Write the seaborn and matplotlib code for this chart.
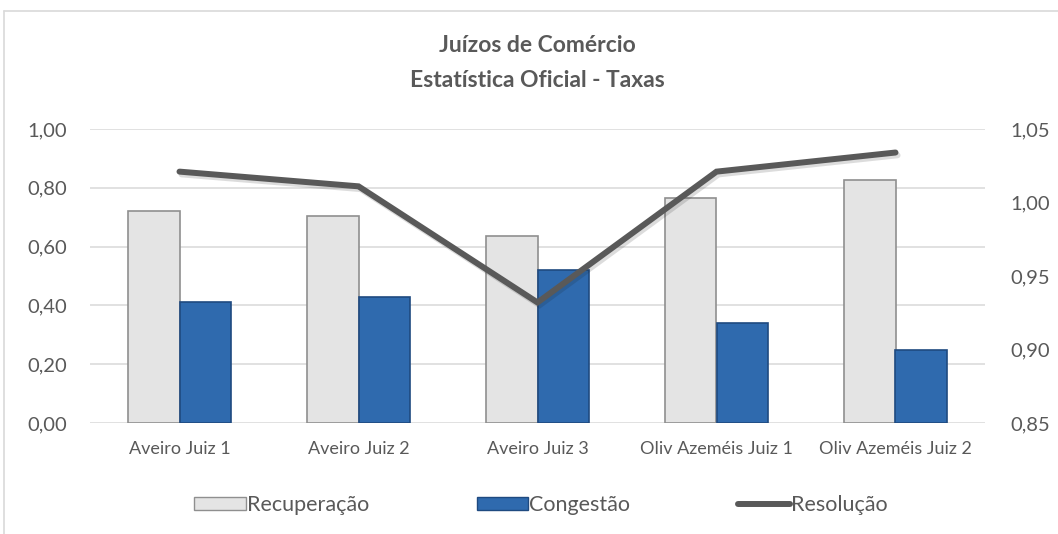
import pandas as pd
import matplotlib.pyplot as plt
import matplotlib.patheffects as pe
from matplotlib.lines import Line2D
from matplotlib.patches import Patch
from matplotlib.ticker import FuncFormatter, FixedLocator
import seaborn as sns

tribunais = ["Aveiro Juiz 1", "Aveiro Juiz 2", "Aveiro Juiz 3",
             "Oliv Azeméis Juiz 1", "Oliv Azeméis Juiz 2"]
recuperacao = [0.72, 0.705, 0.635, 0.765, 0.825]
congestao = [0.41, 0.43, 0.52, 0.34, 0.25]
resolucao = [1.021, 1.011, 0.932, 1.021, 1.034]

sns.set_theme(style="white")
plt.rcParams['font.family'] = ['Lato', 'DejaVu Sans']
txt = "#595959"

df = pd.DataFrame({
    "tribunal": tribunais * 2,
    "taxa": ["Recuperação"] * 5 + ["Congestão"] * 5,
    "valor": recuperacao + congestao,
})
cores = {"Recuperação": "#e4e4e4", "Congestão": "#2f6aae"}
bordas = {"Recuperação": "#8f8f8f", "Congestão": "#1f4a80"}

fig = plt.figure(figsize=(10.58, 5.34), dpi=100)
ax = fig.add_axes([90 / 1058, 111 / 534, 895 / 1058, 294 / 534])

sns.barplot(data=df, x="tribunal", y="valor", hue="taxa", palette=cores,
            width=0.58, saturation=1, ax=ax, legend=False, zorder=2)
for cont, nome in zip(ax.containers, ["Recuperação", "Congestão"]):
    for b in cont:
        b.set_edgecolor(bordas[nome])
        b.set_linewidth(1.2)

fmt = FuncFormatter(lambda v, p: f"{v:.2f}".replace(".", ","))
ax.set_ylim(0, 1.0)
ax.yaxis.set_major_locator(FixedLocator([0, 0.2, 0.4, 0.6, 0.8, 1.0]))
ax.yaxis.set_major_formatter(fmt)
ax.grid(axis="y", color="#d9d9d9", lw=1.1, zorder=0)
ax.grid(axis="x", visible=False)
ax.set_axisbelow(True)
ax.set_xlabel("")
ax.set_ylabel("")
ax.tick_params(axis="y", length=0, pad=16.5, labelsize=14.5, labelcolor=txt)
ax.tick_params(axis="x", length=0, pad=13, labelsize=13, labelcolor=txt)
for s in ax.spines.values():
    s.set_visible(False)

ax2 = ax.twinx()
sns.lineplot(x=list(range(5)), y=resolucao, ax=ax2, color="#595959", lw=4.3,
             solid_capstyle="round", solid_joinstyle="miter", zorder=3,
             path_effects=[pe.SimpleLineShadow(offset=(1.5, -2), alpha=0.15), pe.Normal()])
ax2.set_ylim(0.85, 1.05)
ax2.yaxis.set_major_locator(FixedLocator([0.85, 0.90, 0.95, 1.00, 1.05]))
ax2.yaxis.set_major_formatter(fmt)
ax2.tick_params(axis="y", length=0, pad=18, labelsize=14.5, labelcolor=txt)
ax2.grid(False)
for s in ax2.spines.values():
    s.set_visible(False)
ax.set_xlim(-0.5, 4.5)

fig.text(0.508, 0.914, "Juízos de Comércio", ha="center", va="center",
         fontsize=16.5, fontweight="bold", color=txt)
fig.text(0.508, 0.85, "Estatística Oficial - Taxas", ha="center", va="center",
         fontsize=16.5, fontweight="bold", color=txt)

handles = [
    Patch(facecolor=cores["Recuperação"], edgecolor=bordas["Recuperação"], label="Recuperação"),
    Patch(facecolor=cores["Congestão"], edgecolor=bordas["Congestão"], label="Congestão"),
    Line2D([0], [0], color="#595959", lw=4.3, solid_capstyle="round", label="Resolução"),
]
fig.legend(handles=handles, loc="center", bbox_to_anchor=(0.511, 0.054), ncol=3,
           frameon=False, fontsize=15.5, handlelength=2.4, handleheight=0.55,
           handletextpad=0.05, columnspacing=5.0, labelcolor=txt)

# moldura da área do gráfico
fig.add_artist(Line2D([4 / 1058, 4 / 1058], [0, 1 - 11 / 534], color="#d9d9d9", lw=1.2))
fig.add_artist(Line2D([4 / 1058, 1], [1 - 11 / 534, 1 - 11 / 534], color="#d9d9d9", lw=1.2))

fig.savefig("out.png", dpi=100, facecolor="white")
